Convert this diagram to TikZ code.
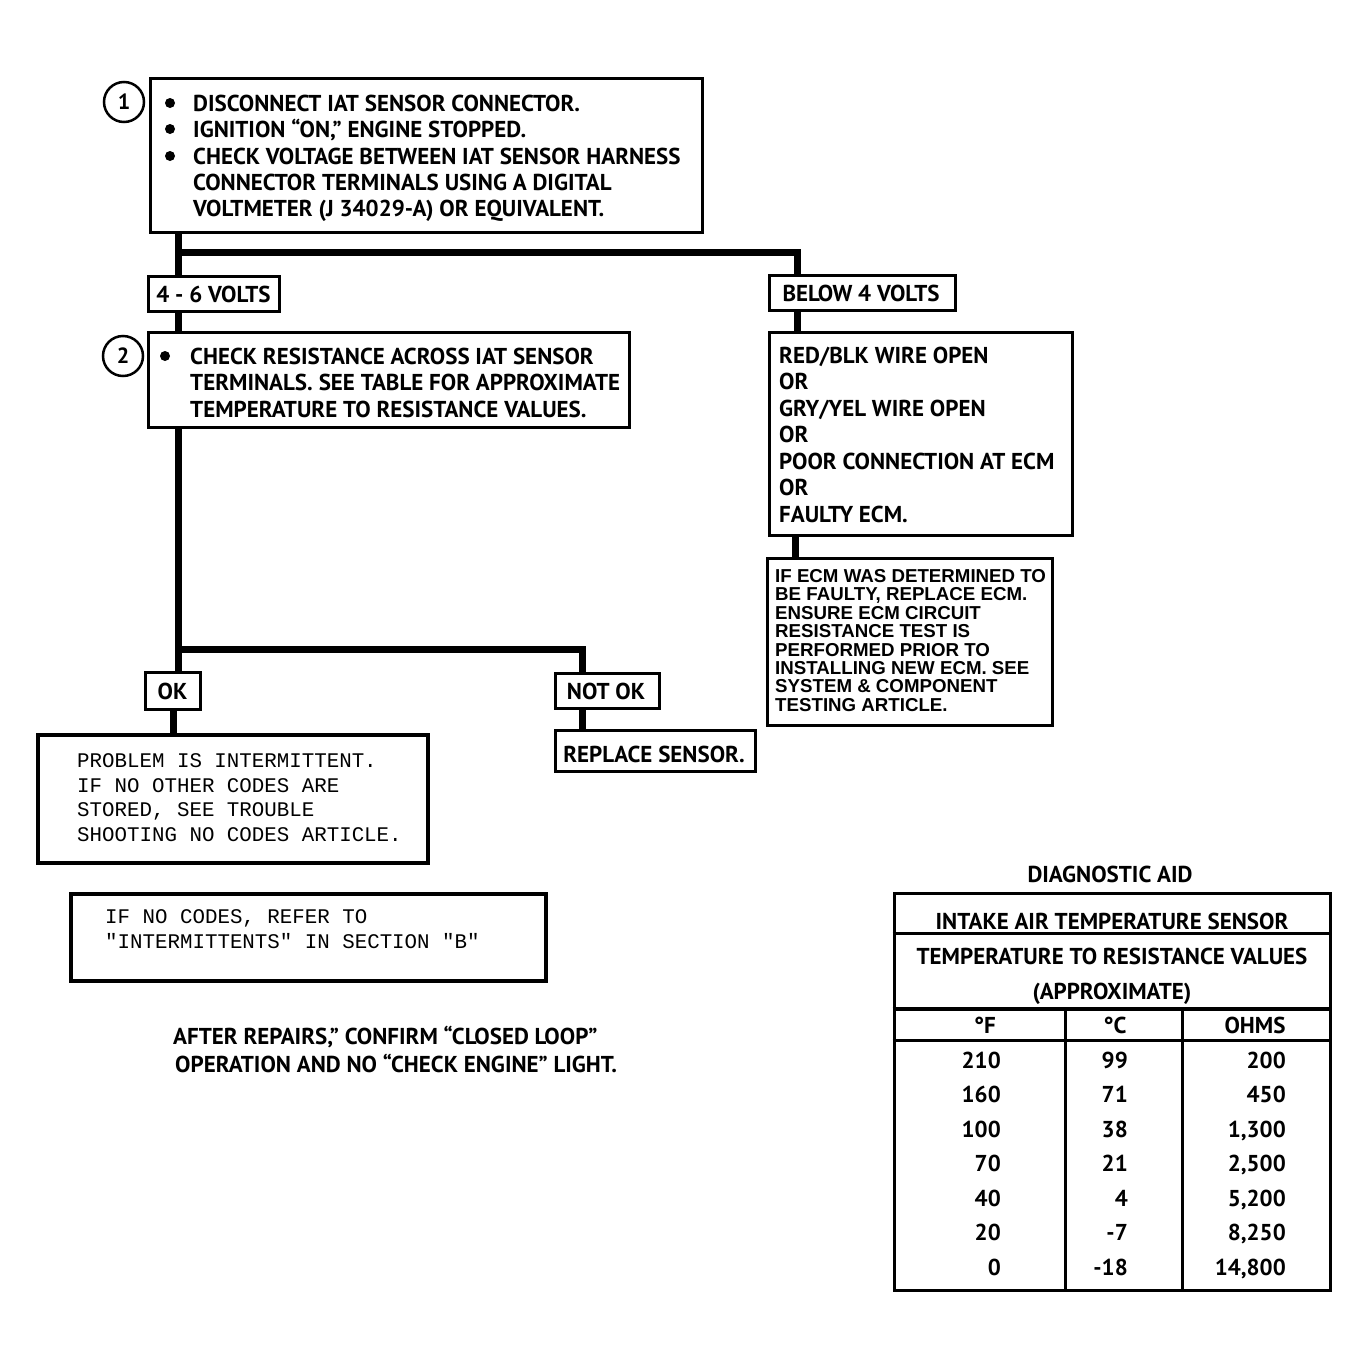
\documentclass[tikz,border=0pt]{standalone}
\usepackage{fontspec}
\setmainfont{PT Sans}
\newfontfamily\arialf{Liberation Sans}
\newfontfamily\monof{Liberation Mono}
\begin{document}
\begin{tikzpicture}[x=1pt,y=-1pt,
  box/.style={draw, line width=3pt, inner sep=0pt},
  conn/.style={line width=7pt, line join=miter},
  t/.style={anchor=base west, inner sep=0pt, font=\fontsize{23}{23}\selectfont\bfseries},
  tc/.style={anchor=base, inner sep=0pt, font=\fontsize{23}{23}\selectfont\bfseries},
  tr/.style={anchor=base east, inner sep=0pt, font=\fontsize{23}{23}\selectfont\bfseries},
  en/.style={anchor=base west, inner sep=0pt, font=\fontsize{18.7}{18.7}\selectfont\arialf\bfseries},
  mono/.style={anchor=base west, inner sep=0pt, font=\fontsize{20.8}{20.8}\selectfont\monof},
  num/.style={draw, circle, line width=2.5pt, minimum size=40pt, inner sep=0pt, font=\fontsize{22}{22}\selectfont\bfseries},
  bul/.style={fill, circle, minimum size=10pt, inner sep=0pt}
]
\useasboundingbox (0,0) rectangle (1370,1368);

% ---- boxes ----
\node[box, minimum width=552pt, minimum height=154pt] (b1) at (426,155) {};
\node[num] (c1) at (124,102) {1};
\node[box, minimum width=131pt, minimum height=35pt] (v46) at (213.5,293.5) {};
\node[box, minimum width=481pt, minimum height=95pt] (b2) at (388.5,379.5) {};
\node[num] (c2) at (123,356) {2};
\node[box, minimum width=55pt, minimum height=37pt] (ok) at (172.5,690.5) {};
\node[box, line width=4pt, minimum width=390pt, minimum height=128pt] (prob) at (233,799) {};
\node[box, minimum width=104pt, minimum height=35pt] (notok) at (607,690.5) {};
\node[box, minimum width=200pt, minimum height=41pt] (repl) at (655,750.5) {};
\node[box, minimum width=186pt, minimum height=35pt] (below) at (862,292.5) {};
\node[box, minimum width=303pt, minimum height=203pt] (red) at (920.5,433.5) {};
\node[box, minimum width=285pt, minimum height=167pt] (ecm) at (909.5,641.5) {};
\node[box, line width=4pt, minimum width=475pt, minimum height=87pt] (nocodes) at (308.5,937.5) {};

% ---- connectors ----
\coordinate (j1) at (178,252);
\coordinate (j2) at (797,252);
\coordinate (j3) at (178,649);
\coordinate (j4) at (582,649);
\draw[conn] (b1.south -| j1) -- (v46.north -| j1);
\draw[conn] (j1) -- (j2) -- (below.north -| j2);
\draw[conn] (v46.south -| j1) -- (b2.north -| j1);
\draw[conn] (b2.south -| j1) -- (ok.north -| j1);
\draw[conn] (j3) -- (j4) -- (notok.north -| j4);
\draw[conn] (ok.south -| 173,0) -- (prob.north -| 173,0);
\draw[conn] (notok.south -| j4) -- (repl.north -| j4);
\draw[conn] (below.south -| j2) -- (red.north -| j2);
\draw[conn] (red.south -| 795,0) -- (ecm.north -| 795,0);

% ---- box 1 text ----
\node[bul] (d1) at (170,103) {};
\node[bul] (d2) at (170,129) {};
\node[bul] (d3) at (170,156) {};
\node[t] (l11) at (193,111) {DISCONNECT IAT SENSOR CONNECTOR.};
\node[t] (l12) at (193,137) {IGNITION “ON,” ENGINE STOPPED.};
\node[t] (l13) at (193,164) {CHECK VOLTAGE BETWEEN IAT SENSOR HARNESS};
\node[t] (l14) at (193,190) {CONNECTOR TERMINALS USING A DIGITAL};
\node[t] (l15) at (193,216) {VOLTMETER (J 34029-A) OR EQUIVALENT.};

\node[tc] (v46t) at (213.5,302) {4 - 6 VOLTS};
\node[tc] (belowt) at (861,301) {BELOW 4 VOLTS};

% ---- box 2 text ----
\node[bul] (d4) at (165,356) {};
\node[t] (l21) at (190,364) {CHECK RESISTANCE ACROSS IAT SENSOR};
\node[t] (l22) at (190,390) {TERMINALS.\hspace{6pt}SEE TABLE FOR APPROXIMATE};
\node[t] (l23) at (190,417) {TEMPERATURE TO RESISTANCE VALUES.};

% ---- right branch ----
\node[t] (r1) at (779,363.5) {RED/BLK WIRE OPEN};
\node[t] (r2) at (779,389.5) {OR};
\node[t] (r3) at (779,416.5) {GRY/YEL WIRE OPEN};
\node[t] (r4) at (779,442.5) {OR};
\node[t] (r5) at (779,469.5) {POOR CONNECTION AT ECM};
\node[t] (r6) at (779,495.5) {OR};
\node[t] (r7) at (779,522.5) {FAULTY ECM.};

\node[en] (e1) at (775,582.5) {IF ECM WAS DETERMINED TO};
\node[en] (e2) at (775,600.9) {BE FAULTY, REPLACE ECM.};
\node[en] (e3) at (775,619.3) {ENSURE ECM CIRCUIT};
\node[en] (e4) at (775,637.7) {RESISTANCE TEST IS};
\node[en] (e5) at (775,656.1) {PERFORMED PRIOR TO};
\node[en] (e6) at (775,674.5) {INSTALLING NEW ECM. SEE};
\node[en] (e7) at (775,692.9) {SYSTEM \& COMPONENT};
\node[en] (e8) at (775,711.3) {TESTING ARTICLE.};

% ---- lower left ----
\node[tc] (okt) at (172.5,699) {OK};
\node[tc] (notokt) at (606,699) {NOT OK};
\node[tc] (replt) at (654,762) {REPLACE SENSOR.};

\node[mono] (p1) at (77,767.5) {PROBLEM IS INTERMITTENT.};
\node[mono] (p2) at (77,792.5) {IF NO OTHER CODES ARE};
\node[mono] (p3) at (77,816.5) {STORED, SEE TROUBLE};
\node[mono] (p4) at (77,841.5) {SHOOTING NO CODES ARTICLE.};

\node[mono] (n1) at (105,923.5) {IF NO CODES, REFER TO};
\node[mono] (n2) at (105,948.5) {"INTERMITTENTS" IN SECTION "B"};

\node[t] (a1) at (173,1044.5) {AFTER REPAIRS,” CONFIRM “CLOSED LOOP”};
\node[t] (a2) at (175,1072.5) {OPERATION AND NO “CHECK ENGINE” LIGHT.};

% ---- table ----
\node[tc] (dg) at (1110,882) {DIAGNOSTIC AID};
\node[box, minimum width=436pt, minimum height=397pt] (tbl) at (1112,1091.5) {};
\draw[line width=3pt] (tbl.west |- 0,933) -- (tbl.east |- 0,933);
\draw[line width=3.5pt] (tbl.west |- 0,1009) -- (tbl.east |- 0,1009);
\draw[line width=3pt] (tbl.west |- 0,1040) -- (tbl.east |- 0,1040);
\draw[line width=3pt] (1065,1009) -- (1065,1290);
\draw[line width=3pt] (1182,1009) -- (1182,1290);
\node[tc] (h1) at (1112,929) {INTAKE AIR TEMPERATURE SENSOR};
\node[tc] (h2) at (1112,964) {TEMPERATURE TO RESISTANCE VALUES};
\node[tc] (h3) at (1112,999) {(APPROXIMATE)};
\node[tc] (cF) at (985,1033) {°F};
\node[tc] (cC) at (1115,1033) {°C};
\node[tc] (cO) at (1255,1033) {OHMS};
\foreach \f/\c/\o [count=\i from 0] in {210/99/200,160/71/450,100/38/{1,300},70/21/{2,500},40/4/{5,200},20/-7/{8,250},0/-18/{14,800}}{
  \node[tr] (f\i) at (1001,1068+34.5*\i) {\f};
  \node[tr] (c\i) at (1128,1068+34.5*\i) {\c};
  \node[tr] (o\i) at (1286,1068+34.5*\i) {\o};
}
\end{tikzpicture}
\end{document}
